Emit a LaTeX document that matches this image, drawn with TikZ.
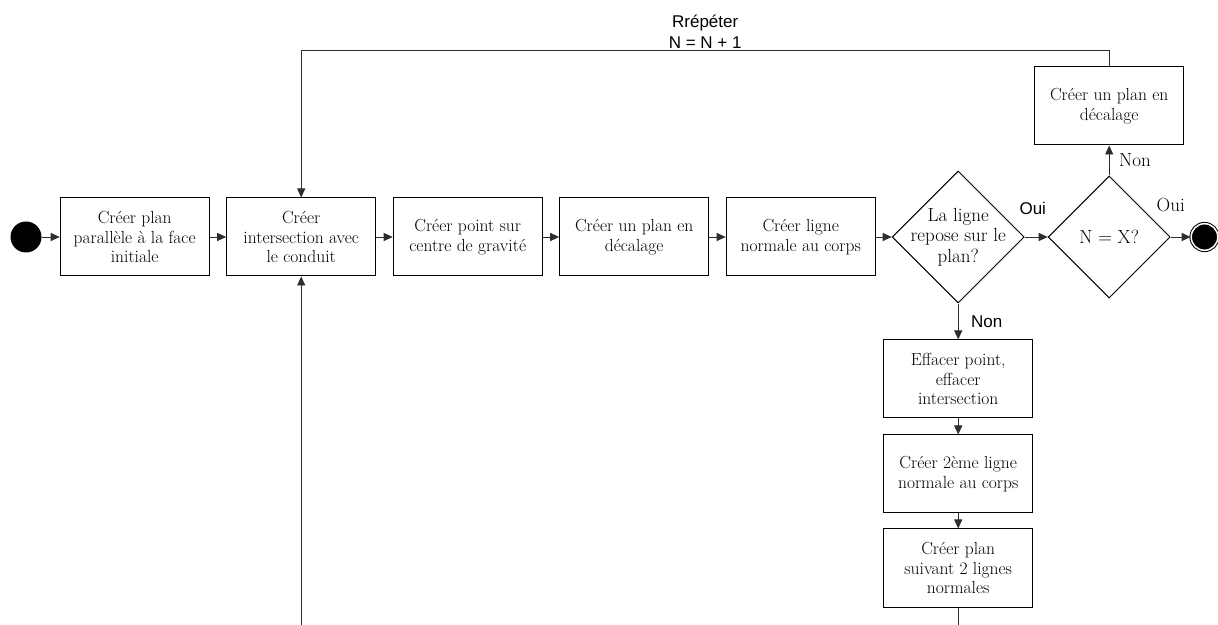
\documentclass[tikz,border=0pt]{standalone}
\usepackage{fontspec}
\usepackage{tikz}
\usetikzlibrary{arrows.meta,positioning,shapes.geometric}
\newfontfamily\labelsans{Liberation Sans}
\definecolor{wire}{HTML}{2E2E2E}
\tikzset{
  flow/.style={-{Triangle[length=9pt,width=8pt]},line width=0.9pt,wire},
  stepbox/.style={draw,line width=1pt,minimum width=149pt,minimum height=78pt,align=center,inner sep=2pt,font=\fontsize{17.5}{19.5}\selectfont},
  testbox/.style={draw,diamond,line width=1pt,align=center,inner sep=-8pt,font=\fontsize{19}{20.5}\selectfont},
  startdot/.style={circle,fill=black,minimum size=31pt,inner sep=0pt},
  enddot/.style={circle,draw=black,fill=black,line width=1pt,double=white,double distance=1.5pt,minimum size=26.6pt,inner sep=0pt},
  sanslabel/.style={font=\labelsans\fontsize{17}{21}\selectfont,align=center,inner sep=1.5pt,text=black},
  seriflabel/.style={font=\fontsize{19}{21}\selectfont,inner sep=1.5pt,text=black}
}
\begin{document}
\begin{tikzpicture}[x=1pt,y=1pt,node distance=16.5pt]
\useasboundingbox (0,0) rectangle (1218,624);
\clip (0,0) rectangle (1218,624);
% main row
\node[startdot] (start) at (26,387) {};
\node[stepbox,right=18pt of start] (plan) {Créer plan\\parallèle à la face\\initiale};
\node[stepbox,right=of plan] (inter) {Créer\\intersection avec\\le conduit};
\node[stepbox,right=of inter] (point) {Créer point sur\\centre de gravité};
\node[stepbox,right=of point] (decal) {Créer un plan en\\décalage};
\node[stepbox,right=of decal] (ligne) {Créer ligne\\normale au corps};
\node[testbox,minimum size=132pt,right=16pt of ligne] (repose) {La ligne\\repose sur le\\plan?};
\node[testbox,minimum size=122pt,right=23pt of repose] (count) {N = X?};
\node[enddot,right=20pt of count] (stop) {};
% branches
\node[stepbox,above=30pt of count] (decal2) {Créer un plan en\\décalage};
\node[stepbox,below=36pt of repose] (efface) {Effacer point,\\effacer\\intersection};
\node[stepbox,below=16pt of efface] (ligne2) {Créer 2ème ligne\\normale au corps};
\node[stepbox,below=15pt of ligne2] (plan2) {Créer plan\\suivant 2 lignes\\normales};
% connectors
\draw[flow] (start) -- (plan);
\draw[flow] (plan) -- (inter);
\draw[flow] (inter) -- (point);
\draw[flow] (point) -- (decal);
\draw[flow] (decal) -- (ligne);
\draw[flow] (ligne) -- (repose);
\draw[flow] (repose) -- node[sanslabel,pos=0.35,above=20pt] (oui1) {Oui} (count);
\draw[flow] (count) -- node[seriflabel,pos=0,above=23pt] (oui2) {Oui} (stop);
\draw[flow] (count) -- node[seriflabel,right=8pt] (non2) {Non} (decal2);
\draw[flow] (repose) -- node[sanslabel,right=11pt] (non1) {Non} (efface);
\draw[flow] (efface) -- (ligne2);
\draw[flow] (ligne2) -- (plan2);
\draw[flow] (decal2.north) -- ++(0,16) -| node[sanslabel,pos=0.25,above] (repeat) {Rrépéter\\N = N + 1} (inter.north);
\draw[flow] (plan2.south) -- ++(0,-40) -| (inter.south);
\end{tikzpicture}
\end{document}
